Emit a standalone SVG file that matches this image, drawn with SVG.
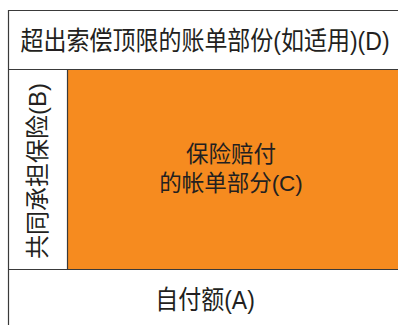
<svg xmlns="http://www.w3.org/2000/svg" width="398" height="325" viewBox="0 0 398 325">
<style>
.t{font-family:"Liberation Sans","Noto Sans CJK SC",sans-serif;font-size:23px;fill:#231f20;text-anchor:middle}
.ln{stroke:#3a3a3a;stroke-width:1.2;fill:none}
</style>
<rect width="398" height="325" fill="#ffffff"/>
<g id="orange">
<rect x="68" y="69.5" width="332" height="200" fill="#f68b1f"/>
</g>
<g id="connectors">
<path class="ln" d="M8.5,325 V10.5 H400"/>
<path class="ln" d="M8.5,69.5 H400"/>
<path class="ln" d="M8.5,269.5 H400"/>
<path class="ln" d="M67.5,69.5 V269.5"/>
</g>
<g id="nodeD"><text class="t" transform="translate(205,49.5) scale(1,1.12)">超出索偿顶限的账单部份(如适用)(D)</text></g>
<g id="nodeB"><text class="t" transform="translate(46,171) rotate(-90)" x="0" y="0" style="font-size:24px">共同承担保险(B)</text></g>
<g id="nodeC"><text class="t" x="231" y="161.5" style="font-size:22.5px">保险赔付</text><text class="t" x="231" y="191" style="font-size:22.5px">的帐单部分(C)</text></g>
<g id="nodeA"><text class="t" transform="translate(205,309) scale(1,1.12)">自付额(A)</text></g>
</svg>
